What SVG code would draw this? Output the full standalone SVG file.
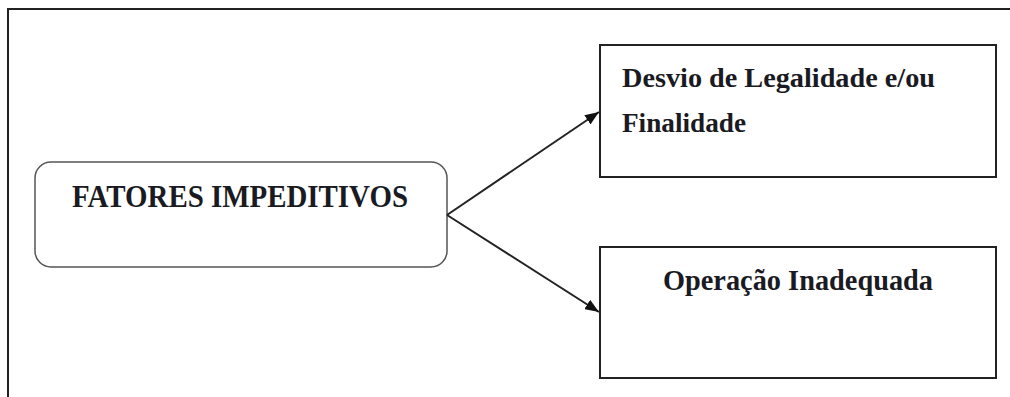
<svg xmlns="http://www.w3.org/2000/svg" width="1010" height="397" viewBox="0 0 1010 397">
<style>
.t{font-family:"Liberation Serif","Times New Roman",serif;font-weight:bold;fill:#1a1a22}
.box{fill:#fff;stroke:#222;stroke-width:2}
.conn{stroke:#222;stroke-width:2;fill:none}
</style>
<defs>
<marker id="ah" viewBox="0 0 14 11" refX="14" refY="5.5" markerWidth="14" markerHeight="11" markerUnits="userSpaceOnUse" orient="auto">
<path d="M0,0 L14,5.5 L0,11 Z" fill="#111"/>
</marker>
</defs>
<rect width="1010" height="397" fill="#fff"/>
<rect x="8" y="9" width="1010" height="400" fill="none" stroke="#222" stroke-width="2"/>
<g id="fatores">
<rect x="35" y="162" width="412" height="105" rx="16" fill="#fff" stroke="#555" stroke-width="1.5"/>
<text class="t" x="72" y="207" font-size="31" textLength="336" lengthAdjust="spacingAndGlyphs">FATORES IMPEDITIVOS</text>
</g>
<g id="desvio">
<rect class="box" x="600" y="45" width="396" height="132"/>
<text class="t" x="622" y="87" font-size="28" textLength="313" lengthAdjust="spacingAndGlyphs">Desvio de Legalidade e/ou</text>
<text class="t" x="622" y="132" font-size="28" textLength="124" lengthAdjust="spacingAndGlyphs">Finalidade</text>
</g>
<g id="operacao">
<rect class="box" x="600" y="247" width="396" height="131"/>
<text class="t" x="663" y="290" font-size="29" textLength="270" lengthAdjust="spacingAndGlyphs">Operação Inadequada</text>
</g>
<g id="connectors">
<line class="conn" x1="447" y1="215" x2="599" y2="112" marker-end="url(#ah)"/>
<line class="conn" x1="447" y1="215" x2="599" y2="312" marker-end="url(#ah)"/>
</g>
</svg>
